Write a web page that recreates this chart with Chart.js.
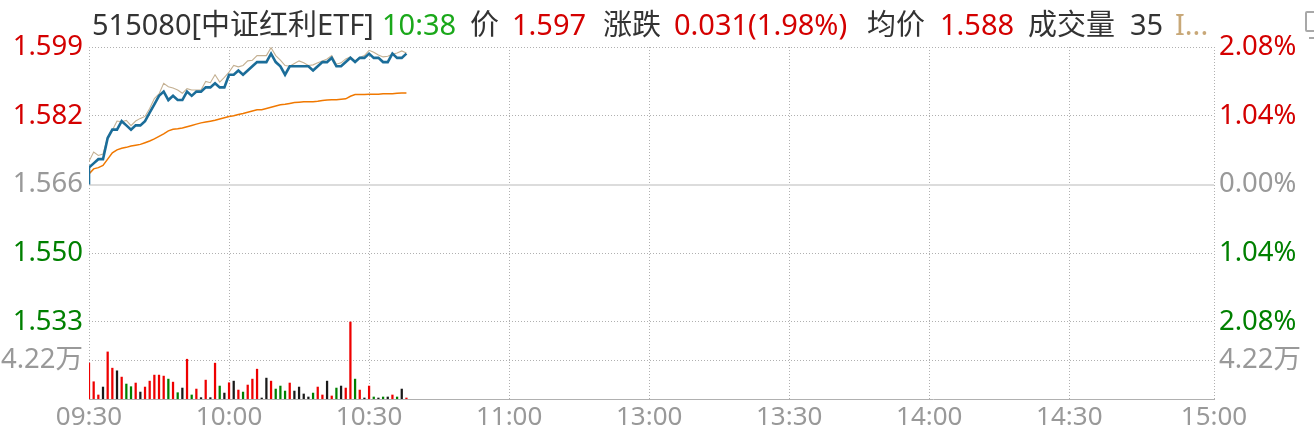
<!DOCTYPE html>
<html><head><meta charset="utf-8">
<script src="https://cdn.jsdelivr.net/npm/chart.js@4/dist/chart.umd.min.js"></script>
<style>
html,body{margin:0;padding:0;background:#fff;width:1314px;height:442px;overflow:hidden;}
#wrap{position:relative;width:1314px;height:442px;overflow:hidden;}
#c{position:absolute;left:0;top:0;}
#hdr{position:absolute;left:0;top:0;width:1314px;height:46px;font-family:"Noto Sans","Noto Sans CJK SC",sans-serif;font-size:29px;line-height:29px;white-space:nowrap;color:#333;}
#hdr span{position:absolute;top:9px;}
#icon{position:absolute;left:1305px;top:11px;width:16px;height:21px;border:2px solid #a8a8a8;border-radius:2px;box-sizing:border-box;}
#stand{position:absolute;left:1309px;top:37px;width:8px;height:2px;background:#a8a8a8;}
</style></head>
<body><div id="wrap"><canvas id="c" width="1314" height="442"></canvas>
<div id="hdr">
<span style="left:92px;color:#333">515080[中证红利ETF]</span>
<span style="left:382px;color:#1aa81a">10:38</span>
<span style="left:470px">价</span>
<span style="left:512px;color:#d40000">1.597</span>
<span style="left:603px">涨跌</span>
<span style="left:674px;color:#d40000">0.031(1.98%)</span>
<span style="left:867px">均价</span>
<span style="left:940px;color:#d40000">1.588</span>
<span style="left:1028px">成交量</span>
<span style="left:1130px">35</span>
<span style="left:1175px;color:#c8a878">I...</span>
</div>
<div id="icon"></div><div id="stand"></div>
</div>
<script>
// ---------- data ----------
const prevClose = 1.566;
const openingPoint = 1.566;
const timeLabels = ['09:30','10:00','10:30','11:00','13:00','13:30','14:00','14:30','15:00'];
const timeSlots  = [0, 30, 60, 90, 120, 150, 180, 210, 241];
const pctTicks = [2.08, 1.04, 0, -1.04, -2.08];

const price = [
 1.570,1.571,1.572,1.572,1.577,1.579,1.579,1.581,1.580,1.579,
 1.580,1.580,1.581,1.583,1.585,1.587,1.588,1.586,1.587,1.586,
 1.586,1.588,1.587,1.588,1.588,1.589,1.589,1.590,1.589,1.589,
 1.592,1.592,1.593,1.592,1.593,1.594,1.595,1.595,1.595,1.597,
 1.595,1.594,1.592,1.594,1.594,1.594,1.594,1.594,1.593,1.594,
 1.595,1.595,1.596,1.594,1.594,1.595,1.596,1.595,1.596,1.596,
 1.597,1.596,1.596,1.595,1.595,1.597,1.596,1.596,1.597];

const avgPrice = [
 1.5685,1.5697,1.5700,1.5705,1.5720,1.5735,1.5742,1.5746,1.5748,1.5751,
 1.5753,1.5755,1.5759,1.5763,1.5768,1.5774,1.5780,1.5787,1.5791,1.5792,
 1.5794,1.5797,1.5800,1.5803,1.5806,1.5808,1.5810,1.5812,1.5815,1.5818,
 1.5821,1.5823,1.5826,1.5828,1.5831,1.5834,1.5837,1.5837,1.5840,1.5843,
 1.5846,1.5849,1.5850,1.5852,1.5854,1.5855,1.5856,1.5856,1.5856,1.5857,
 1.5859,1.5860,1.5861,1.5861,1.5862,1.5863,1.5869,1.5873,1.5873,1.5873,
 1.5874,1.5874,1.5874,1.5875,1.5875,1.5875,1.5876,1.5877,1.5877];

const indexPct = [
 0.35,0.49,0.44,0.46,0.72,0.82,0.96,0.95,0.97,0.89,
 0.96,1.00,1.03,1.15,1.30,1.37,1.53,1.48,1.46,1.43,
 1.38,1.45,1.43,1.43,1.43,1.56,1.54,1.66,1.55,1.62,
 1.70,1.80,1.78,1.80,1.87,1.88,1.95,1.95,1.95,2.07,
 1.95,1.88,1.80,1.79,1.83,1.87,1.84,1.80,1.81,1.84,
 1.87,1.90,1.95,1.82,1.84,1.90,1.93,1.87,1.92,1.95,
 2.03,2.00,1.96,1.93,1.94,1.97,1.99,2.02,1.99];

const volume = [ // 万
 3.93,1.89,0.44,1.31,5.16,3.38,3.09,2.40,1.64,1.35,
 1.75,0.76,1.31,1.96,2.62,2.62,2.51,2.18,1.85,0.69,
 1.20,4.36,0.44,1.09,0.15,2.07,0.15,3.93,1.42,0.65,
 1.78,1.96,0.98,0.76,1.53,2.18,3.27,0.11,2.29,1.96,
 1.09,1.42,0.87,1.75,0.87,1.31,0.55,0.22,0.65,1.31,
 0.44,1.96,0.33,1.20,1.42,1.20,8.44,2.18,0.98,0.11,
 1.42,0.22,0.11,0.22,0.22,0.44,0.22,1.09,0.11];

// ---------- layout / style ----------
const volPanelFrac = 77 / 352;
const FONT = '"Noto Sans","Noto Sans CJK SC",sans-serif';
const RED = '#d40000', GREEN = '#008000', GRAY = '#999';

const pctMax = Math.max(...pctTicks);
const pctBottom = Math.min(...pctTicks);
const pctMin = pctMax - (pctMax - pctBottom) / (1 - volPanelFrac);
const toPrice = p => prevClose * (1 + p / 100);
const volMax = Math.max(...volume);
const volAxisMax = volMax / volPanelFrac;
const volTick = volMax / 2;
const volTickPct = pctMin + (volTick / volAxisMax) * (pctMax - pctMin);

// tick definitions in pct units (ascending)
const tickDefs = [
  {pct: pctMin, left: '', right: '', color: GRAY},
  {pct: volTickPct, left: volTick.toFixed(2) + '万', right: volTick.toFixed(2) + '万', color: GRAY, vol: true}
].concat(pctTicks.slice().sort((a,b)=>a-b).map(p => ({
  pct: p,
  left: toPrice(p).toFixed(3),
  right: Math.abs(p).toFixed(2) + '%',
  color: p > 0 ? RED : (p < 0 ? GREEN : GRAY),
  zero: p === 0
})));

const dirColors = price.map((p, i) => {
  const prev = i === 0 ? prevClose : price[i - 1];
  return p > prev ? '#ee0000' : (p < prev ? '#008000' : '#1a1a1a');
});

new Chart(document.getElementById('c'), {
  type: 'line',
  data: {
    datasets: [
      { type: 'line', yAxisID: 'yP', order: 1,
        data: [{x: 0, y: openingPoint}].concat(price.map((p, i) => ({x: i, y: p}))),
        borderColor: '#1b6d99', borderWidth: 2.6, pointRadius: 0, tension: 0, fill: false },
      { type: 'line', yAxisID: 'yR', order: 2,
        data: indexPct.map((p, i) => ({x: i, y: p})),
        borderColor: '#c4b092', borderWidth: 1.1, pointRadius: 0, tension: 0, fill: false },
      { type: 'line', yAxisID: 'yP', order: 3,
        data: avgPrice.map((p, i) => ({x: i, y: p})),
        borderColor: '#f07800', borderWidth: 1.5, pointRadius: 0, tension: 0, fill: false },
      { type: 'bar', yAxisID: 'yV', order: 4,
        data: volume.map((v, i) => ({x: i, y: v})),
        backgroundColor: dirColors, barThickness: 1.6, borderWidth: 0 }
    ]
  },
  options: {
    responsive: false, animation: false,
    layout: { padding: { top: 47, left: 0, right: 0, bottom: 0 } },
    plugins: { legend: { display: false }, tooltip: { enabled: false } },
    scales: {
      x: {
        type: 'linear', min: 0, max: timeSlots[timeSlots.length - 1], bounds: 'data', offset: false,
        afterBuildTicks: s => { s.ticks = timeSlots.map(v => ({value: v})); },
        afterFit: s => { s.height = 43; },
        ticks: { callback: (v, i) => timeLabels[i], color: GRAY, autoSkip: false, maxRotation: 0,
                 padding: 3, font: { family: FONT, size: 26 } },
        grid: { color: '#b0b0b0', lineWidth: 1, drawTicks: false, offset: false },
        border: { display: true, color: '#b0b0b0', dash: [1, 2] }
      },
      yP: {
        type: 'linear', position: 'left', bounds: 'data',
        min: toPrice(pctMin), max: toPrice(pctMax),
        afterBuildTicks: s => { s.ticks = tickDefs.map(d => ({value: toPrice(d.pct)})); },
        afterFit: s => { s.width = 89; },
        ticks: { callback: (v, i) => tickDefs[i].left, color: c => tickDefs[c.index] ? tickDefs[c.index].color : GRAY,
                 autoSkip: false, padding: 6, font: { family: FONT, size: 27.5 } },
        grid: { color: c => (tickDefs[c.index] && tickDefs[c.index].zero) ? 'rgba(0,0,0,0)' : '#b0b0b0',
                lineWidth: 1, drawTicks: false },
        border: { display: false, dash: [1, 2] }
      },
      yR: {
        type: 'linear', position: 'right', bounds: 'data',
        min: pctMin, max: pctMax,
        afterBuildTicks: s => { s.ticks = tickDefs.map(d => ({value: d.pct})); },
        afterFit: s => { s.width = 100; },
        ticks: { callback: (v, i) => tickDefs[i].right, color: c => tickDefs[c.index] ? tickDefs[c.index].color : GRAY,
                 autoSkip: false, padding: 5, font: { family: FONT, size: 27.5 } },
        grid: { color: c => (tickDefs[c.index] && tickDefs[c.index].zero) ? '#dcdcdc' : 'rgba(0,0,0,0)',
                lineWidth: 2, drawTicks: false },
        border: { display: false }
      },
      yV: {
        type: 'linear', display: false, bounds: 'data', min: 0, max: volAxisMax
      }
    }
  }
});
</script>
</body></html>
